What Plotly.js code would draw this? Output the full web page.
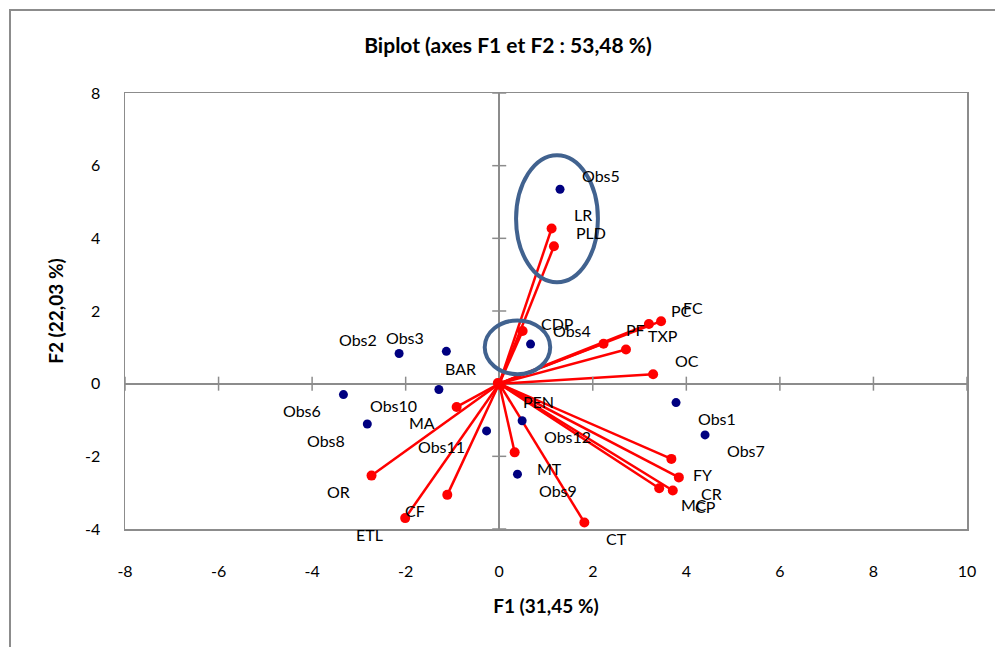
<!DOCTYPE html>
<html>
<head>
<meta charset="utf-8">
<script src="https://cdn.plot.ly/plotly-3.0.1.min.js"></script>
<style>
  html, body { margin:0; padding:0; width:995px; height:647px; overflow:hidden; background:#fff; }
  #frame { position:absolute; left:9px; top:9px; width:1200px; height:900px; border:2px solid #8c8c8c; }
  #chart { position:absolute; left:0; top:0; width:995px; height:647px; }
</style>
</head>
<body>
<div id="frame"></div>
<div id="chart"></div>
<script>
// Observations (F1, F2)
const obsNames = ['Obs1','Obs2','Obs3','Obs4','Obs5','Obs6','Obs7','Obs8','Obs9','Obs10','Obs11','Obs12'];
const obsF1 = [3.78, -2.14, -1.13, 0.67, 1.30, -3.33, 4.40, -2.82, 0.39, -1.29, -0.27, 0.49];
const obsF2 = [-0.52, 0.83, 0.89, 1.09, 5.35, -0.30, -1.41, -1.11, -2.49, -0.16, -1.30, -1.02];

// Variables (F1, F2)
const varNames = ['LR','PLD','CDP','PF','PC','FC','TXP','OC','BAR','PEN','MA','OR','CF','ETL','MT','CT','FY','CR','MC','CP'];
const varF1 = [1.12, 1.17, 0.50, 2.23, 3.20, 3.46, 2.71, 3.29, -0.03, 0.03, -0.91, -2.73, -1.11, -2.01, 0.33, 1.82, 3.68, 3.84, 3.42, 3.71];
const varF2 = [4.27, 3.78, 1.45, 1.10, 1.64, 1.72, 0.94, 0.26, 0.02, -0.04, -0.64, -2.53, -3.06, -3.70, -1.89, -3.82, -2.07, -2.58, -2.88, -2.94];

// Axis ticks
const xTicks = [-8, -6, -4, -2, 0, 2, 4, 6, 8, 10];
const yTicks = [-4, -2, 0, 2, 4, 6, 8];

const FONT = 'Lato, "Open Sans", sans-serif';
const GREY = '#8c8c8c';

// vectors from origin
const lx = [], ly = [];
varF1.forEach((v, i) => { lx.push(0, v, null); ly.push(0, varF2[i], null); });

const traces = [
  { type:'scatter', mode:'lines', x:lx, y:ly, line:{color:'#ff0000', width:2.5}, hoverinfo:'skip' },
  { type:'scatter', mode:'markers', x:varF1, y:varF2, marker:{color:'#ff0000', size:10}, hoverinfo:'skip' },
  { type:'scatter', mode:'markers', x:obsF1, y:obsF2, marker:{color:'#000080', size:9}, hoverinfo:'skip' },
  // cross tick marks on the zero lines
  { type:'scatter', mode:'markers', x:xTicks.filter(v=>v!==0), y:xTicks.filter(v=>v!==0).map(()=>0),
    marker:{symbol:'line-ns', size:10, line:{color:GREY, width:1.5}}, hoverinfo:'skip', cliponaxis:false },
  { type:'scatter', mode:'markers', x:yTicks.filter(v=>v!==0).map(()=>0), y:yTicks.filter(v=>v!==0),
    marker:{symbol:'line-ew', size:10, line:{color:GREY, width:1.5}}, hoverinfo:'skip', cliponaxis:false }
];

function label(name, x, y) {
  const right = x >= 0;
  const up = y >= 0;
  let ys = up ? 14 : -16, xs = right ? 20 : -20;
  if (name === 'CDP') { ys = 7; xs = 16; }
  return {
    x:x, y:y, xref:'x', yref:'y', text:name, showarrow:false,
    xanchor: right ? 'left' : 'right', yanchor:'middle',
    xshift: xs, yshift: ys,
    font:{family:FONT, size:16, color:'#000'}
  };
}
const annotations = [];
obsNames.forEach((n, i) => annotations.push(label(n, obsF1[i], obsF2[i])));
varNames.forEach((n, i) => annotations.push(label(n, varF1[i], varF2[i])));

const ellipseColor = '#41628f';
const layout = {
  width:995, height:647,
  margin:{l:125, r:28, t:93, b:118},
  paper_bgcolor:'rgba(0,0,0,0)', plot_bgcolor:'#fff',
  showlegend:false, hovermode:false,
  font:{family:FONT, size:16, color:'#000'},
  title:{text:'<b>Biplot (axes F1 et F2 : 53,48 %)</b>', x:508/995, xref:'container', xanchor:'center',
         y:1-46/647, yref:'container', yanchor:'middle', font:{family:FONT, size:21, color:'#000'}},
  xaxis:{range:[-8,10], tickvals:xTicks, ticktext:xTicks.map(String), showgrid:false,
         zeroline:true, zerolinecolor:GREY, zerolinewidth:2,
         showline:true, mirror:true, linecolor:GREY, linewidth:1.5,
         ticks:'outside', ticklen:27, tickcolor:'rgba(0,0,0,0)',
         tickfont:{family:FONT, size:16, color:'#000'},
         title:{text:'<b>F1 (31,45 %)</b>', font:{family:FONT, size:19, color:'#000'}, standoff:21}},
  yaxis:{range:[-4,8], tickvals:yTicks, ticktext:yTicks.map(String), showgrid:false,
         zeroline:true, zerolinecolor:GREY, zerolinewidth:2,
         showline:true, mirror:true, linecolor:GREY, linewidth:1.5,
         ticks:'outside', ticklen:20, tickcolor:'rgba(0,0,0,0)',
         tickfont:{family:FONT, size:16, color:'#000'},
         title:{text:'<b>F2 (22,03 %)</b>', font:{family:FONT, size:19, color:'#000'}, standoff:16}},
  shapes:[
    {type:'circle', xref:'x', yref:'y', x0:0.36, x1:2.11, y0:2.79, y1:6.29, line:{color:ellipseColor, width:4}, layer:'above'},
    {type:'circle', xref:'x', yref:'y', x0:-0.31, x1:1.09, y0:0.26, y1:1.74, line:{color:ellipseColor, width:4}, layer:'above'}
  ],
  annotations:annotations
};

Plotly.newPlot('chart', traces, layout, {staticPlot:true, displayModeBar:false});
</script>
</body>
</html>
